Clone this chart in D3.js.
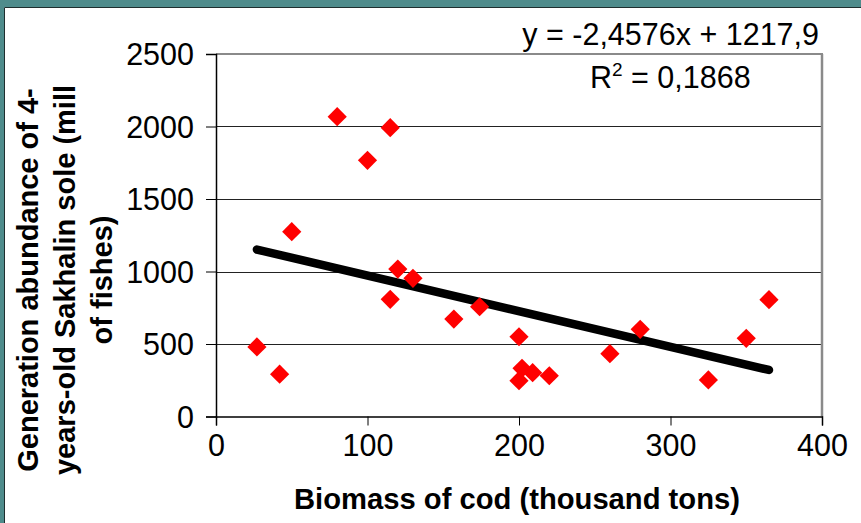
<!DOCTYPE html>
<html>
<head>
<meta charset="utf-8">
<script src="https://cdn.jsdelivr.net/npm/d3@7"></script>
<style>
  html, body { margin: 0; padding: 0; background: #fff; }
  svg { display: block; font-family: "Liberation Sans", Arial, sans-serif; }
</style>
</head>
<body>
<svg id="chart" width="861" height="523"></svg>
<script>
// ---- data ----
const biomass = [27, 42, 50, 80, 100, 115, 120, 130, 115, 157, 174, 200, 202, 200, 209, 220, 260, 280, 325, 350, 365];
const abundance = [480, 292, 1275, 2068, 1767, 1992, 1017, 953, 808, 672, 757, 550, 332, 247, 302, 281, 433, 601, 252, 539, 806];
const xTicks = [0, 100, 200, 300, 400];
const yTicks = [0, 500, 1000, 1500, 2000, 2500];
const slope = -2.4576, intercept = 1217.9;
const trendRange = [27, 365];
const eqLabel = "y = -2,4576x + 1217,9";
const r2Value = "0,1868";
const xTitle = "Biomass of cod (thousand tons)";
const yTitleLines = ["Generation abundance of 4-", "years-old Sakhalin sole (mill", "of fishes)"];

const svg = d3.select("#chart");
const W = 861, H = 523;

// frame: teal band on top and left
svg.append("rect").attr("x", 0).attr("y", 0).attr("width", W).attr("height", 7).attr("fill", "#4f8c8c");
svg.append("rect").attr("x", 0).attr("y", 0).attr("width", 4).attr("height", H).attr("fill", "#4f8c8c");
svg.append("line").attr("x1", 4.5).attr("x2", W).attr("y1", 7.5).attr("y2", 7.5).attr("stroke", "#1e2e2e").attr("stroke-width", 1);
svg.append("line").attr("x1", 4.5).attr("x2", 4.5).attr("y1", 7.5).attr("y2", H).attr("stroke", "#1e2e2e").attr("stroke-width", 1);

const x = d3.scaleLinear().domain([0, 400]).range([216, 822]);
const y = d3.scaleLinear().domain([0, 2500]).range([416.5, 54]);

// gridlines
svg.append("g").selectAll("line").data(yTicks.filter(t => t > 0 && t < 2500)).join("line")
  .attr("x1", x(0)).attr("x2", x(400))
  .attr("y1", d => Math.round(y(d)) + 0.5).attr("y2", d => Math.round(y(d)) + 0.5)
  .attr("stroke", "#222").attr("stroke-width", 1);

// plot border top/right (gray)
svg.append("line").attr("x1", x(0)).attr("x2", x(400) + 1).attr("y1", y(2500)).attr("y2", y(2500))
  .attr("stroke", "#8a8a8a").attr("stroke-width", 2);
svg.append("line").attr("x1", x(400)).attr("x2", x(400)).attr("y1", y(2500)).attr("y2", y(0))
  .attr("stroke", "#8a8a8a").attr("stroke-width", 2.5);

// axes
const yAxis = d3.axisLeft(y).tickValues(yTicks).tickSize(10).tickPadding(12).tickFormat(d3.format("d"));
const xAxis = d3.axisBottom(x).tickValues(xTicks).tickSize(9).tickPadding(9).tickFormat(d3.format("d"));

const gy = svg.append("g").attr("transform", `translate(${x(0)},0)`).call(yAxis);
const gx = svg.append("g").attr("transform", `translate(0,${y(0)})`).call(xAxis);
[gx, gy].forEach(g => {
  g.select(".domain").attr("stroke", "#000").attr("stroke-width", 1.5);
  g.selectAll(".tick line").attr("stroke", "#000").attr("stroke-width", 1);
  g.selectAll(".tick text").attr("fill", "#000").attr("font-size", 30.5)
    .attr("font-family", "'Liberation Sans', Arial, sans-serif");
});
gy.selectAll(".tick text").attr("dy", "0.35em");
gx.selectAll(".tick text").attr("dy", "0.71em");

// trend line
svg.append("line")
  .attr("x1", x(trendRange[0])).attr("y1", y(slope * trendRange[0] + intercept))
  .attr("x2", x(trendRange[1])).attr("y2", y(slope * trendRange[1] + intercept))
  .attr("stroke", "#000").attr("stroke-width", 8.5).attr("stroke-linecap", "round");

// points (diamonds)
const pts = biomass.map((b, i) => ({ b, a: abundance[i] }));
svg.append("g").selectAll("path").data(pts).join("path")
  .attr("d", d3.symbol(d3.symbolDiamond2, 235))
  .attr("transform", d => `translate(${x(d.b)},${y(d.a)})`)
  .attr("fill", "#ff0000");

// equation labels
svg.append("text").attr("x", 819).attr("y", 45).attr("text-anchor", "end")
  .attr("font-size", 30.5).attr("fill", "#000").text(eqLabel);
const r2 = svg.append("text").attr("x", 590).attr("y", 88).attr("font-size", 30.5).attr("fill", "#000");
r2.append("tspan").text("R");
r2.append("tspan").attr("font-size", 19).attr("dy", -12).text("2");
r2.append("tspan").attr("dy", 12).text(" = " + r2Value);

// axis titles
svg.append("text").attr("x", 517).attr("y", 509).attr("text-anchor", "middle")
  .attr("font-size", 29.2).attr("font-weight", "bold").attr("fill", "#000").text(xTitle);

const yt = svg.append("text").attr("transform", "translate(0,280) rotate(-90)")
  .attr("text-anchor", "middle").attr("font-size", 29).attr("font-weight", "bold").attr("fill", "#000");
yTitleLines.forEach((l, i) => {
  yt.append("tspan").attr("x", 0).attr("y", 38 + i * 37).text(l);
});
</script>
</body>
</html>
